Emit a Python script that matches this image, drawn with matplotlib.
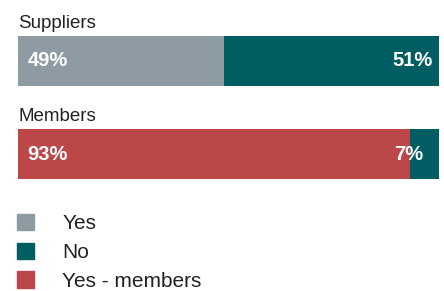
import matplotlib.pyplot as plt
from matplotlib.patches import Patch

plt.rcParams['font.family'] = ['Liberation Sans', 'DejaVu Sans']

groups = ['Suppliers', 'Members']
yes_vals = [49, 93]
no_vals = [51, 7]
yes_colors = ['#8e9ba3', '#bc4749']
no_color = '#005e63'
legend_labels = ['Yes', 'No', 'Yes - members']

W, H = 444, 291
fig = plt.figure(figsize=(W / 100, H / 100), dpi=100)
ax = fig.add_axes([18 / W, 1 - 179 / H, (439 - 18) / W, (179 - 36) / H])

ypos = [1, 0]
bh = 50 / 93
ax.barh(ypos, yes_vals, height=bh, color=yes_colors, linewidth=0)
ax.barh(ypos, no_vals, left=yes_vals, height=bh, color=no_color, linewidth=0)
ax.set_xlim(0, 100)
ax.set_ylim(-bh / 2, 1 + bh / 2)
ax.axis('off')

right_pad = [-4.5, -11.5]
for y, g, a, b, rp in zip(ypos, groups, yes_vals, no_vals, right_pad):
    ax.annotate(g, (0, y + bh / 2), xytext=(0, 6), textcoords='offset points',
                ha='left', va='baseline', fontsize=13.5, color='#222222')
    ax.annotate(f'{a}%', (0, y), xytext=(7, 0), textcoords='offset points',
                ha='left', va='center', fontsize=14.5, fontweight='bold', color='white')
    ax.annotate(f'{b}%', (a + b, y), xytext=(rp, 0), textcoords='offset points',
                ha='right', va='center', fontsize=14.5, fontweight='bold', color='white')

handles = [Patch(color=c) for c in [yes_colors[0], no_color, yes_colors[1]]]
fig.legend(handles, legend_labels, loc='upper left', bbox_to_anchor=(17 / W, 1 - 214 / H),
           frameon=False, fontsize=15, handlelength=0.82, handleheight=0.82,
           handletextpad=1.35, labelspacing=0.45, borderpad=0, borderaxespad=0,
           labelcolor='#222222')

fig.savefig('out.png', dpi=100)
